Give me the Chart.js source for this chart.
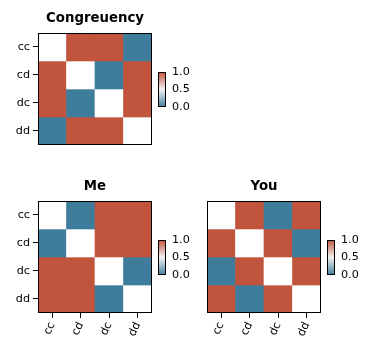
<!DOCTYPE html>
<html>
<head>
<meta charset="utf-8">
<script src="https://cdn.jsdelivr.net/npm/chart.js@4.4.1/dist/chart.umd.min.js"></script>
<style>
  body { margin: 0; background: #fff; }
  #wrap { position: relative; width: 370px; height: 352px; }
  #wrap canvas { position: absolute; left: 0; top: 0; }
</style>
</head>
<body>
<div id="wrap"></div>
<script>
// strategy labels (rows and columns)
const labels = ['cc', 'cd', 'dc', 'dd'];
const cbTicks = [0, 0.5, 1];

// matrix values, 0.5 on the diagonal shows white
const congruency = [
  [0.5, 1, 1, 0],
  [1, 0.5, 0, 1],
  [1, 0, 0.5, 1],
  [0, 1, 1, 0.5]
];
const me = [
  [0.5, 0, 1, 1],
  [0, 0.5, 1, 1],
  [1, 1, 0.5, 0],
  [1, 1, 0, 0.5]
];
const you = [
  [0.5, 1, 0, 1],
  [1, 0.5, 1, 0],
  [0, 1, 0.5, 1],
  [1, 0, 1, 0.5]
];

const BLUE = [61, 125, 155];
const MID = [255, 255, 255];
const RED = [193, 84, 60];

function colorFor(v) {
    let a, b, t;
    if (v <= 0.5) { a = BLUE; b = MID; t = v / 0.5; }
    else { a = MID; b = RED; t = (v - 0.5) / 0.5; }
    const c = a.map((x, i) => Math.round(x + (b[i] - x) * t));
    return 'rgb(' + c.join(',') + ')';
}

const FONT = { family: 'DejaVu Sans', size: 11.2 };

// draws the black frame round the plot area
const framePlugin = {
    id: 'frame',
    afterDraw(chart) {
        const a = chart.chartArea;
        const ctx = chart.ctx;
        ctx.save();
        ctx.strokeStyle = '#000';
        ctx.lineWidth = 1;
        ctx.strokeRect(Math.round(a.left) + 0.5, Math.round(a.top) + 0.5,
            Math.round(a.right - a.left) - 1, Math.round(a.bottom - a.top) - 1);
        ctx.restore();
    }
};

function makeCanvas() {
    const c = document.createElement('canvas');
    c.width = 370;
    c.height = 352;
    document.getElementById('wrap').appendChild(c);
    return c;
}

function heatmap(title, matrix, box, showX, showY) {
    const datasets = matrix.map((row, i) => ({
        label: labels[i],
        data: row.map(() => 1),
        backgroundColor: row.map(colorFor),
        borderWidth: 0,
        barPercentage: 1,
        categoryPercentage: 1
    }));
    new Chart(makeCanvas(), {
        type: 'bar',
        data: { labels: labels, datasets: datasets },
        options: {
            responsive: false,
            animation: false,
            events: [],
            layout: { padding: box },
            plugins: {
                legend: { display: false },
                tooltip: { enabled: false },
                title: {
                    display: true,
                    text: title,
                    fullSize: false,
                    color: '#000',
                    font: { family: 'DejaVu Sans', size: 13.3, weight: 'bold', lineHeight: 1.2 },
                    padding: { top: 11, bottom: 6 }
                }
            },
            scales: {
                x: {
                    display: showX,
                    stacked: true,
                    offset: true,
                    border: { display: false },
                    grid: { offset: false, drawOnChartArea: false, drawTicks: true, tickLength: 5, color: '#000' },
                    ticks: { color: '#000', font: FONT, minRotation: 65, maxRotation: 65, padding: 2 },
                    afterFit: s => { s.height = showX ? 36 : 0; }
                },
                y: {
                    display: showY,
                    stacked: true,
                    min: 0,
                    max: 4,
                    reverse: true,
                    border: { display: false },
                    grid: { drawOnChartArea: false, drawTicks: true, tickLength: 5, color: '#000' },
                    afterBuildTicks: s => { s.ticks = [0.5, 1.5, 2.5, 3.5].map(v => ({ value: v })); },
                    ticks: { color: '#000', font: FONT, autoSkip: false, padding: 3,
                        callback: v => labels[Math.floor(v)] },
                    afterFit: s => { s.width = showY ? 38 : 0; }
                }
            }
        },
        plugins: [framePlugin]
    });
}

function colorbar(box) {
    new Chart(makeCanvas(), {
        type: 'bar',
        data: {
            labels: [''],
            datasets: [{
                data: [[0, 1]],
                borderWidth: 0,
                barPercentage: 1,
                categoryPercentage: 1,
                backgroundColor: ctx => {
                    const a = ctx.chart.chartArea;
                    if (!a) return colorFor(1);
                    const g = ctx.chart.ctx.createLinearGradient(0, a.bottom, 0, a.top);
                    g.addColorStop(0, colorFor(0));
                    g.addColorStop(0.5, 'rgb(242,242,242)');
                    g.addColorStop(1, colorFor(1));
                    return g;
                }
            }]
        },
        options: {
            responsive: false,
            animation: false,
            events: [],
            layout: { padding: box },
            plugins: { legend: { display: false }, tooltip: { enabled: false } },
            scales: {
                x: { display: false },
                y: {
                    position: 'right',
                    min: 0,
                    max: 1,
                    border: { display: false },
                    grid: { display: false, drawTicks: false },
                    afterBuildTicks: s => { s.ticks = cbTicks.map(v => ({ value: v })); },
                    ticks: { color: '#000', font: FONT, padding: 6, callback: v => v.toFixed(1) },
                    afterFit: s => { s.width = 30; }
                }
            }
        },
        plugins: [framePlugin]
    });
}

// top-left: Congreuency
heatmap('Congreuency', congruency, { left: 0, top: 0, right: 218, bottom: 207 }, false, true);
colorbar({ left: 158, top: 72, right: 174, bottom: 245 });

// bottom-left: Me
heatmap('Me', me, { left: 0, top: 168, right: 218, bottom: 3 }, true, true);
colorbar({ left: 158, top: 240, right: 174, bottom: 77 });

// bottom-right: You
heatmap('You', you, { left: 207, top: 168, right: 49, bottom: 3 }, true, false);
colorbar({ left: 327, top: 240, right: 5, bottom: 77 });
</script>
</body>
</html>
